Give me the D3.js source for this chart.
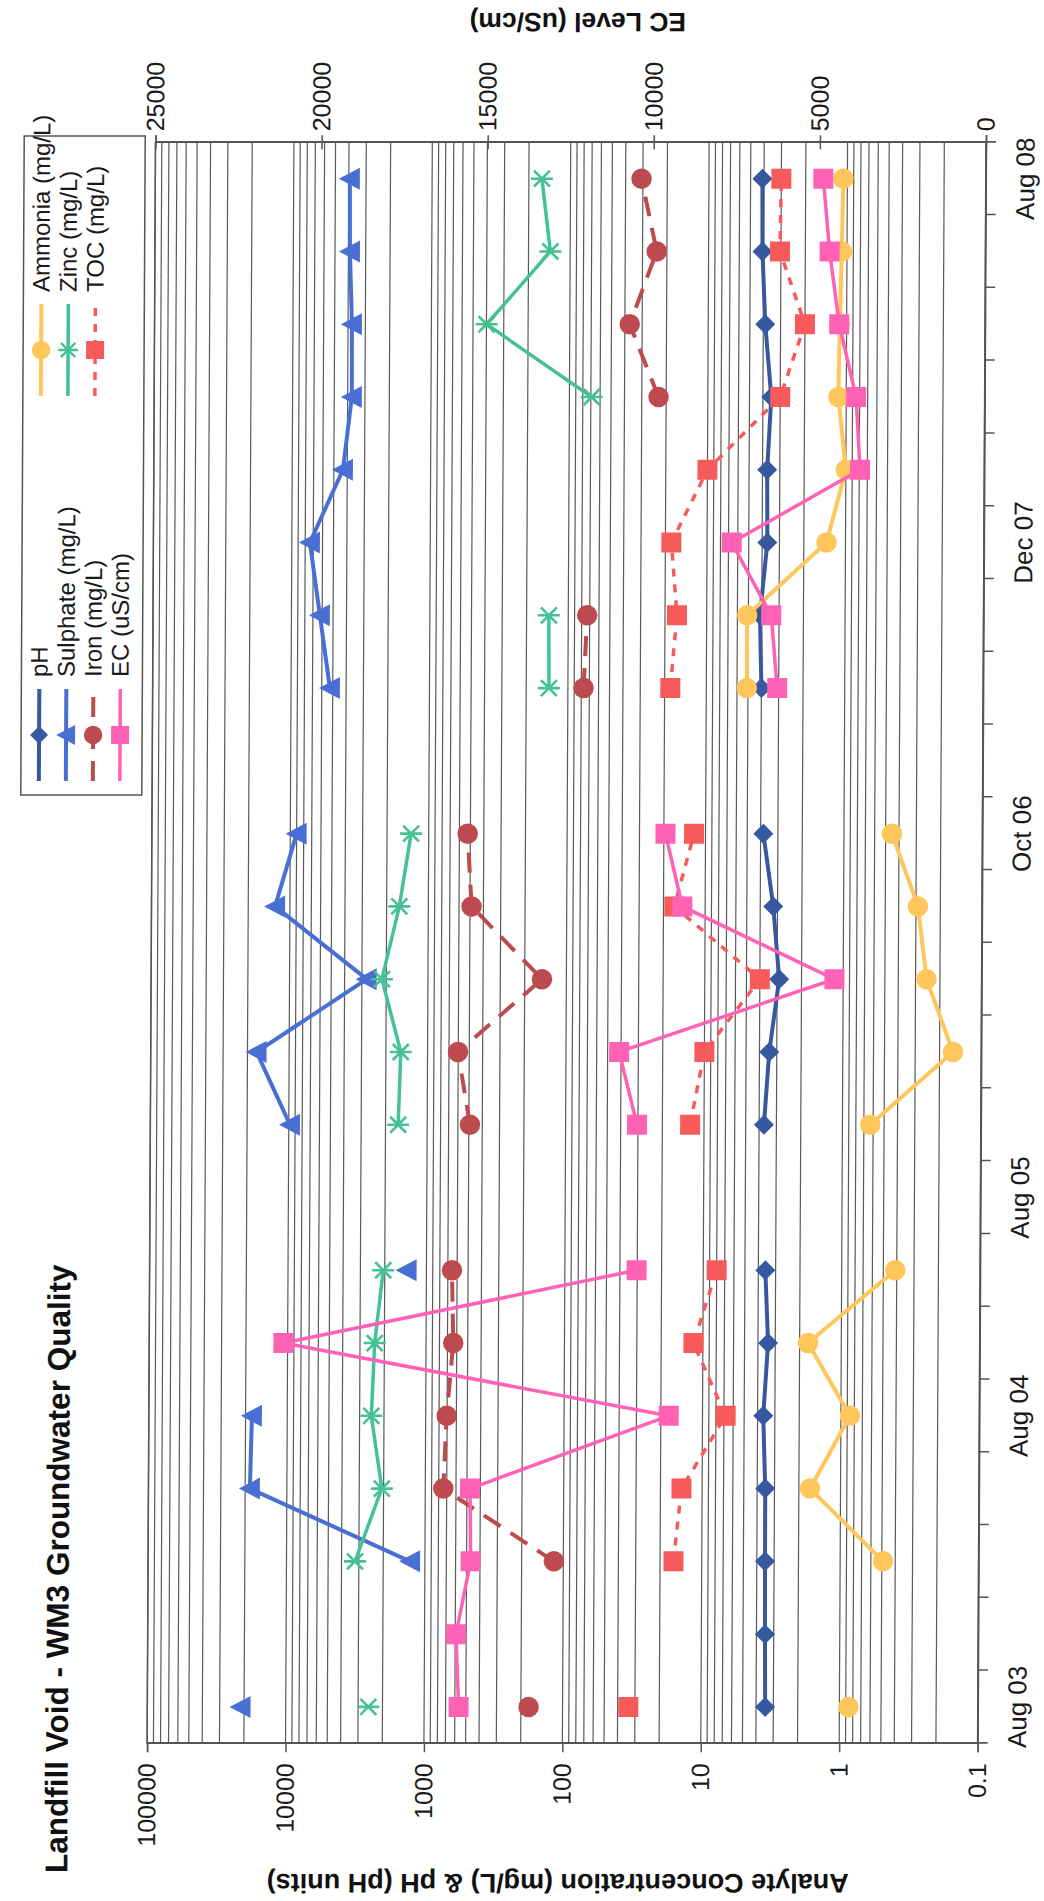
<!DOCTYPE html>
<html>
<head>
<meta charset="utf-8">
<script src="https://cdn.jsdelivr.net/npm/d3@7"></script>
<style>
  body { margin: 0; background: #fff; }
  svg { display: block; font-family: "Liberation Sans", Arial, sans-serif; }
</style>
</head>
<body>
<div id="chart"></div>
<script>
// --- data (one entry per sampling event on the category axis, null = not sampled)
var categoryLabels = ["Aug 03", "", "", "", "Aug 04", "", "", "Aug 05", "", "", "", "",
                      "Oct 06", "", "", "", "Dec 07", "", "", "", "", "Aug 08"];

var pH       = [3.44, 3.47, 3.49, 3.50, 3.64, 3.38, 3.56, null, 3.69, 3.40, 2.90, 3.22,
                3.82, null, 4.00, 4.12, 3.67, 3.70, 3.48, 3.87, 4.08, 4.11];
var ammonia  = [0.86, null, 0.49, 1.66, 0.86, 1.74, 0.41, null, 0.63, 0.16, 0.25, 0.29,
                0.45, null, 5.1, 5.1, 1.37, 1.0, 1.14, 1.12, 1.09, 1.07];
var sulphate = [21200, null, 1280, 18500, 18000, null, 1390, null, 9800, 17200, 2770, 12800,
                9000, null, 5240, 6230, 7400, 4300, 3730, 3750, 3900, 3930];
var zinc     = [2530, null, 3200, 2060, 2470, 2350, 2050, null, 1620, 1560, 2150, 1620,
                1340, null, 137, 138, null, null, 69, 399, 139, 161];
var iron     = [176, null, 117, 741, 705, 636, 654, null, 491, 603, 150, 487,
                523, null, 77, 73, null, null, 22.7, 36.9, 23.7, 30.7];
var toc      = [33.5, null, 16.0, 14.1, 6.8, 11.7, 8.0, null, 12.6, 10.0, 4.0, 16.7,
                12.1, null, 18.2, 16.4, 18.1, 10.0, 3.0, 2.0, 3.05, 3.0];
var ec       = [15630, 15720, 15290, 15320, 9350, 20960, 10340, null, 10350, 10900, 4430, 9020,
                9540, null, 6200, 6390, 7590, 3740, 3870, 4390, 4690, 4890];

var logTicks = [0.1, 1, 10, 100, 1000, 10000, 100000];
var logTickLabels = ["0.1", "1", "10", "100", "1000", "10000", "100000"];
var ecTicks = [0, 5000, 10000, 15000, 20000, 25000];

// --- the chart is drawn landscape, then turned a quarter turn to fit the page
var plot = { left: 157.7, right: 1758.7, top: 151.3, bottom: 981.8 };

var svg = d3.select("#chart").append("svg")
  .attr("width", 1044)
  .attr("height", 1901);

var sheet = svg.append("g")
  .attr("transform", "translate(522,943) skewX(-0.3) translate(-522,-943)");
var g = sheet.append("g")
  .attr("transform", "translate(0,1901) rotate(-90)");

var x = d3.scaleBand().domain(d3.range(categoryLabels.length)).range([plot.left, plot.right]);
var xEdge = d3.scaleLinear().domain([0, categoryLabels.length]).range([plot.left, plot.right]);
var yLog = d3.scaleLog().domain([0.1, 100000]).range([plot.bottom, plot.top]);
var yEC = d3.scaleLinear().domain([0, 25000]).range([plot.bottom, plot.top]);

function cx(i) { return x(i) + x.bandwidth() / 2; }

// gridlines: every 1..9 x 10^n
var grid = [];
logTicks.slice(0, -1).forEach(function (d) {
  for (var m = 1; m < 10; m++) grid.push(d * m);
});
grid.push(100000);

g.append("g").selectAll("line")
  .data(grid)
  .enter().append("line")
  .attr("x1", plot.left).attr("x2", plot.right)
  .attr("y1", function (d) { return yLog(d); })
  .attr("y2", function (d) { return yLog(d); })
  .attr("stroke", "#5a5a5a")
  .attr("stroke-width", 1.2);

g.append("rect")
  .attr("x", plot.left).attr("y", plot.top)
  .attr("width", plot.right - plot.left).attr("height", plot.bottom - plot.top)
  .attr("fill", "none").attr("stroke", "#555").attr("stroke-width", 1.5);

// left log axis
var leftAxis = g.append("g")
  .attr("transform", "translate(" + plot.left + ",0)")
  .call(d3.axisLeft(yLog).tickValues(logTicks)
    .tickFormat(function (d, i) { return logTickLabels[i]; })
    .tickSize(9).tickPadding(11));

// right EC axis, ticks cross the line
var rightAxis = g.append("g")
  .attr("transform", "translate(" + plot.right + ",0)")
  .call(d3.axisRight(yEC).tickValues(ecTicks).tickFormat(d3.format("d"))
    .tickSize(7).tickPadding(4));
rightAxis.selectAll(".tick line").attr("x1", -7);

// category axis: ticks between categories, labels under chosen categories
var bottomTicks = g.append("g")
  .attr("transform", "translate(0," + plot.bottom + ")")
  .call(d3.axisBottom(xEdge).tickValues(d3.range(categoryLabels.length + 1))
    .tickFormat("").tickSize(10));
var bottomLabels = g.append("g")
  .attr("transform", "translate(0," + plot.bottom + ")")
  .call(d3.axisBottom(x)
    .tickValues(d3.range(categoryLabels.length).filter(function (i) { return categoryLabels[i] !== ""; }))
    .tickFormat(function (i) { return categoryLabels[i]; })
    .tickSize(0).tickPadding(30));

[leftAxis, rightAxis, bottomTicks, bottomLabels].forEach(function (a) {
  a.select(".domain").attr("stroke", "#555").attr("stroke-width", 1.5);
  a.selectAll(".tick line").attr("stroke", "#555").attr("stroke-width", 1.5);
  a.selectAll("text").attr("fill", "#1a1a1a").style("font-size", "25px")
    .style("font-family", "'Liberation Sans', Arial, sans-serif");
});
bottomLabels.select(".domain").remove();
bottomLabels.selectAll("text").style("font-size", "26px");

// titles
g.append("text")
  .attr("x", 28).attr("y", 72)
  .style("font-size", "31.5px").style("font-weight", "bold").attr("fill", "#111")
  .text("Landfill Void - WM3 Groundwater Quality");

g.append("text")
  .attr("transform", "translate(27," + ((plot.top + plot.bottom) / 2 - 4) + ") rotate(-90)")
  .attr("text-anchor", "middle")
  .style("font-size", "27px").style("font-weight", "bold").attr("fill", "#111")
  .text("Analyte Concentration (mg/L) & pH (pH units)");

g.append("text")
  .attr("transform", "translate(1888,573) rotate(-90)")
  .attr("text-anchor", "middle")
  .style("font-size", "26.5px").style("font-weight", "bold").attr("fill", "#111")
  .text("EC Level (uS/cm)");

// --- marker shapes
var shapes = {
  diamond: "M0,-10L10,0L0,10L-10,0Z",
  triangle: "M0,-11L11,10L-11,10Z",
  square: "M-10,-10H10V10H-10Z",
  circle: d3.symbol().type(d3.symbolCircle).size(330)(),
  star: "M0,-11V11M-8,-8L8,8M-8,8L8,-8"
};

var series = [
  { name: "pH", values: pH, color: "#35589f", width: 4, dash: null, shape: "diamond", axis: yLog },
  { name: "Ammonia (mg/L)", values: ammonia, color: "#ffc65c", width: 4, dash: null, shape: "circle", axis: yLog },
  { name: "Sulphate (mg/L)", values: sulphate, color: "#4a6fd4", width: 4, dash: null, shape: "triangle", axis: yLog },
  { name: "Zinc (mg/L)", values: zinc, color: "#45c193", width: 3.5, dash: null, shape: "star", axis: yLog },
  { name: "Iron (mg/L)", values: iron, color: "#bc4a4e", width: 4, dash: "20,12", shape: "circle", axis: yLog },
  { name: "TOC (mg/L)", values: toc, color: "#f75a5a", width: 3.5, dash: "8,8", shape: "square", axis: yLog },
  { name: "EC (uS/cm)", values: ec, color: "#ff62b5", width: 3.5, dash: null, shape: "square", axis: yEC }
];

function drawMarker(sel, s) {
  if (s.shape === "star") {
    sel.append("path").attr("d", shapes.star).attr("fill", "none")
      .attr("stroke", s.color).attr("stroke-width", 2.6);
  } else {
    sel.append("path").attr("d", shapes[s.shape]).attr("fill", s.color);
  }
}

series.forEach(function (s) {
  var line = d3.line()
    .defined(function (d) { return d != null; })
    .x(function (d, i) { return cx(i); })
    .y(function (d) { return s.axis(d); });

  var sg = g.append("g").attr("class", "series");
  sg.append("path")
    .attr("d", line(s.values))
    .attr("fill", "none")
    .attr("stroke", s.color)
    .attr("stroke-width", s.width)
    .attr("stroke-dasharray", s.dash);

  s.values.forEach(function (v, i) {
    if (v == null) return;
    var m = sg.append("g").attr("transform", "translate(" + cx(i) + "," + s.axis(v) + ")");
    drawMarker(m, s);
  });
});

// --- legend
var legendRows = [
  { s: "pH", col: 0, row: 0 }, { s: "Sulphate (mg/L)", col: 0, row: 1 },
  { s: "Iron (mg/L)", col: 0, row: 2 }, { s: "EC (uS/cm)", col: 0, row: 3 },
  { s: "Ammonia (mg/L)", col: 1, row: 0 }, { s: "Zinc (mg/L)", col: 1, row: 1 },
  { s: "TOC (mg/L)", col: 1, row: 2 }
];
var legend = g.append("g");
legend.append("rect")
  .attr("x", 1106).attr("y", 20).attr("width", 659).attr("height", 121)
  .attr("fill", "#fff").attr("stroke", "#555").attr("stroke-width", 1.5);

var colX = [1120, 1505];
legendRows.forEach(function (r) {
  var s = series.filter(function (d) { return d.name === r.s; })[0];
  var x0 = colX[r.col], yb = 46 + r.row * 27, ym = yb - 8;
  legend.append("line")
    .attr("x1", x0).attr("x2", x0 + 92).attr("y1", ym).attr("y2", ym)
    .attr("stroke", s.color).attr("stroke-width", s.width)
    .attr("stroke-dasharray", s.dash);
  var m = legend.append("g").attr("transform", "translate(" + (x0 + 46) + "," + ym + ") scale(0.9)");
  drawMarker(m, s);
  legend.append("text")
    .attr("x", x0 + 104).attr("y", yb)
    .style("font-size", "24px").attr("fill", "#1a1a1a")
    .text(s.name);
});
</script>
</body>
</html>
